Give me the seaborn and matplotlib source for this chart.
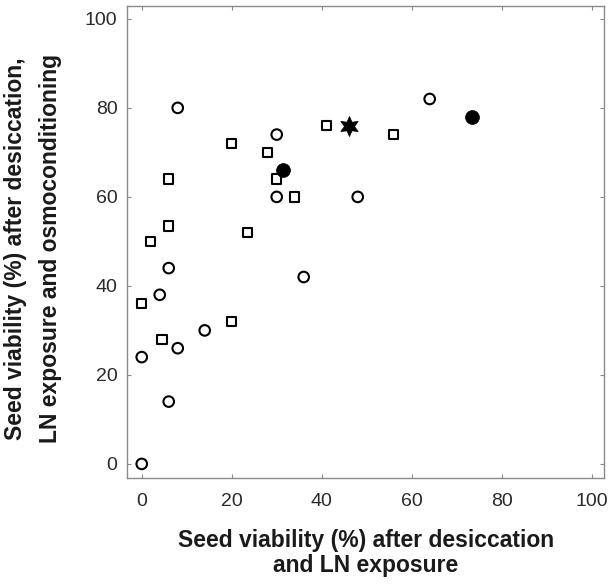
import matplotlib
matplotlib.use('Agg')
import matplotlib.pyplot as plt
import seaborn as sns

# open circles
circle_x = [0, 0, 6, 8, 4, 6, 14, 36, 8, 30, 30, 48, 64]
circle_y = [0, 24, 14, 26, 38, 44, 30, 42, 80, 74, 60, 60, 82]

# open squares
square_x = [0, 4.5, 20, 2, 6, 6, 20, 28, 30, 34, 23.5, 41, 56]
square_y = [36, 28, 32, 50, 53.5, 64, 72, 70, 64, 60, 52, 76, 74]

# filled circles
filled_x = [31.5, 73.5]
filled_y = [66, 78]

# star
star_x = [46]
star_y = [76]

x_ticks = [0, 20, 40, 60, 80, 100]
y_ticks = [0, 20, 40, 60, 80, 100]

sns.set_theme(style='white')
plt.rcParams['font.family'] = ['Liberation Sans', 'DejaVu Sans']

fig = plt.figure(figsize=(6.11, 5.86), dpi=100)
ax = fig.add_axes([0.2084, 0.1848, 0.7806, 0.805])

sns.scatterplot(x=circle_x, y=circle_y, marker='o', s=58, facecolor='none',
                edgecolor='black', linewidth=1.5, ax=ax, zorder=3)
sns.scatterplot(x=square_x, y=square_y, marker='s', s=46, facecolor='none',
                edgecolor='black', linewidth=1.5, ax=ax, zorder=3)
sns.scatterplot(x=filled_x, y=filled_y, marker='o', s=100, color='black',
                edgecolor='black', linewidth=0.5, ax=ax, zorder=3)
sns.scatterplot(x=star_x, y=star_y, marker=(6, 1, 0), s=210, color='black',
                edgecolor='black', linewidth=0.5, ax=ax, zorder=3)

ax.set_xlim(-3.2, 102.8)
ax.set_ylim(-3.1, 102.9)
ax.set_xticks(x_ticks)
ax.set_yticks(y_ticks)

for side in ax.spines.values():
    side.set_color('#8a8a8a')
    side.set_linewidth(1.0)

ax.tick_params(axis='both', which='both', direction='in', length=3, width=0.8,
               color='#8a8a8a', top=True, right=True, bottom=True, left=True,
               labelsize=14, labelcolor='#2a2a2a')
ax.tick_params(axis='x', pad=11)
ax.tick_params(axis='y', pad=7)

ax.set_xlabel('Seed viability (%) after desiccation\nand LN exposure',
              fontsize=16.5, fontweight='bold', color='#1a1a1a', labelpad=14,
              linespacing=1.08)
ax.set_ylabel('Seed viability (%) after desiccation,\nLN exposure and osmoconditioning',
              fontsize=16.5, fontweight='bold', color='#1a1a1a', linespacing=1.65)
ax.yaxis.set_label_coords(-0.137, 0.485)

fig.savefig('out.png', dpi=100)
